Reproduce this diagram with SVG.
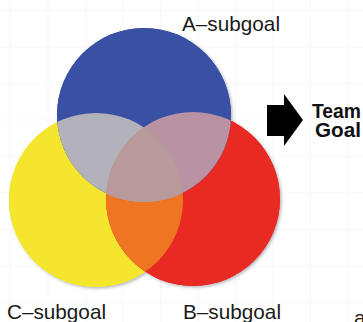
<svg xmlns="http://www.w3.org/2000/svg" width="363" height="322" viewBox="0 0 363 322">
  <style>
    .lbl { font-family: "Liberation Sans", Arial, sans-serif; font-size: 21px; fill: #1a1a1a; }
    .goal { font-family: "Liberation Sans", Arial, sans-serif; font-size: 20px; font-weight: bold; fill: #111; }
  </style>
  <defs>
    <pattern id="grid" x="10" y="10" width="37.5" height="36.5" patternUnits="userSpaceOnUse">
      <path d="M0 0 H37.5 M0 0 V36.5" fill="none" stroke="#efefef" stroke-width="1"/>
    </pattern>
    <filter id="shadow" x="-10%" y="-10%" width="125%" height="125%">
      <feDropShadow dx="1.5" dy="1.5" stdDeviation="1.8" flood-color="#5a5a6a" flood-opacity="0.45"/>
    </filter>
    <clipPath id="clipA"><circle cx="144" cy="115" r="87"/></clipPath>
    <clipPath id="clipC"><circle cx="96" cy="200" r="87"/></clipPath>
    <clipPath id="clipB"><circle cx="193" cy="199" r="87"/></clipPath>
  </defs>
  <rect width="363" height="322" fill="#ffffff"/>
  <rect width="363" height="322" fill="url(#grid)"/>

  <g id="shadows" filter="url(#shadow)">
    <circle cx="144" cy="115" r="87" fill="#3a50a4"/>
    <circle cx="96" cy="200" r="87" fill="#f4e62c"/>
    <circle cx="193" cy="199" r="87" fill="#e92a22"/>
  </g>

  <g id="node-c">
    <circle cx="96" cy="200" r="87" fill="#f4e62c"/>
  </g>
  <g id="node-b">
    <circle cx="193" cy="199" r="87" fill="#e92a22"/>
  </g>
  <g id="node-a">
    <circle cx="144" cy="115" r="87" fill="#3a50a4"/>
  </g>
  <g id="overlaps">
    <g clip-path="url(#clipC)">
      <circle cx="193" cy="199" r="87" fill="#ee7622"/>
    </g>
    <g clip-path="url(#clipA)">
      <circle cx="96" cy="200" r="87" fill="#b3b2ba"/>
      <circle cx="193" cy="199" r="87" fill="#b992a4"/>
      <g clip-path="url(#clipC)">
        <circle cx="193" cy="199" r="87" fill="#b89a9a"/>
      </g>
    </g>
  </g>

  <g id="labels">
    <text class="lbl" x="182" y="31" textLength="98" lengthAdjust="spacingAndGlyphs">A–subgoal</text>
    <text class="lbl" x="7" y="319" textLength="99" lengthAdjust="spacingAndGlyphs">C–subgoal</text>
    <text class="lbl" x="183" y="319" textLength="98" lengthAdjust="spacingAndGlyphs">B–subgoal</text>
    <text class="lbl" x="354" y="325">a</text>
  </g>

  <g id="team-goal">
    <polygon points="267,105 284,105 284,94 303,120 284,146 284,136 267,136" fill="#000"/>
    <text class="goal" x="312" y="118" textLength="49" lengthAdjust="spacingAndGlyphs">Team</text>
    <text class="goal" x="315" y="137" textLength="46" lengthAdjust="spacingAndGlyphs">Goal</text>
  </g>
</svg>
